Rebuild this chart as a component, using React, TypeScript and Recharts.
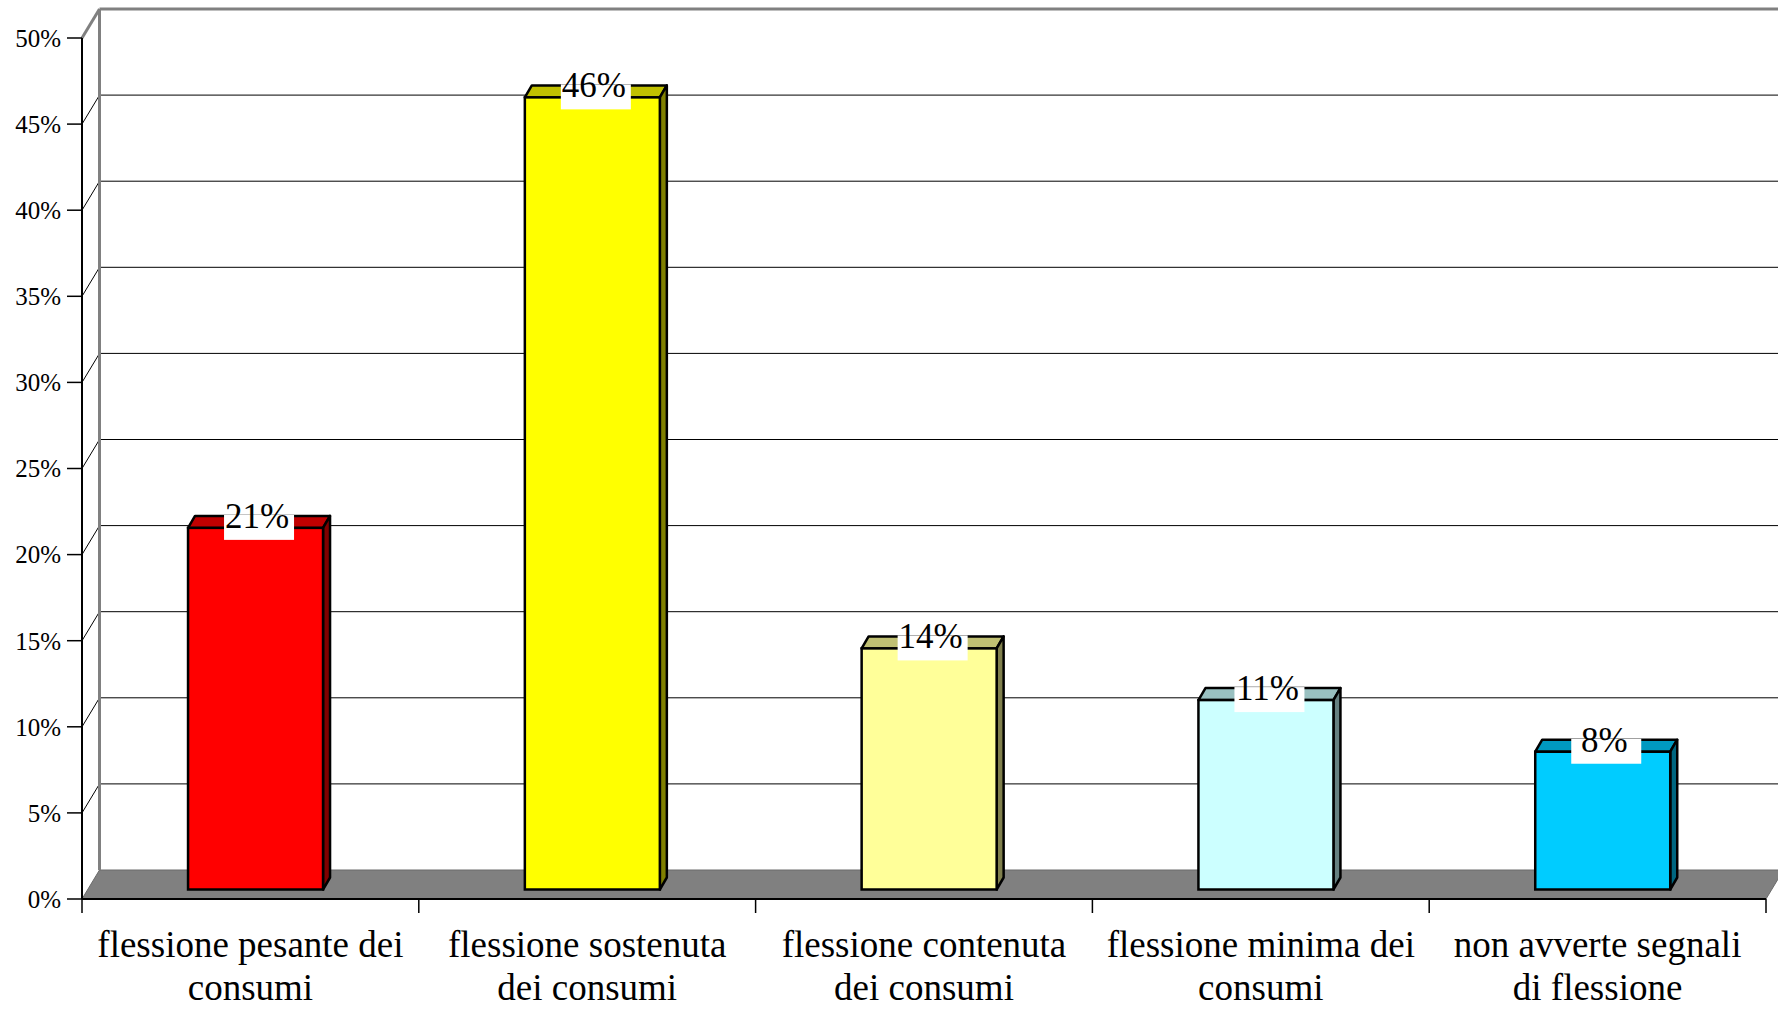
import React from 'react';
import { BarChart, Bar, XAxis, YAxis, CartesianGrid, LabelList } from 'recharts';

// Survey answers and their shares (%)
const CATEGORIES = [
  'flessione pesante dei consumi',
  'flessione sostenuta dei consumi',
  'flessione contenuta dei consumi',
  'flessione minima dei consumi',
  'non avverte segnali di flessione',
];
const VALUES = [21, 46, 14, 11, 8];
const Y_TICKS = [0, 5, 10, 15, 20, 25, 30, 35, 40, 45, 50];

// Face colours of each 3D column: front, top, right side
const FRONT_COLORS = ['#FF0000', '#FFFF00', '#FFFF99', '#CCFFFF', '#00CCFF'];
const TOP_COLORS = ['#C00000', '#C0C000', '#C0C073', '#99C0C0', '#0099C0'];
const SIDE_COLORS = ['#800000', '#808000', '#80804D', '#668080', '#006680'];

const data = CATEGORIES.map((name, i) => ({ name, value: VALUES[i] }));

const CHART_W = 1778;
const CHART_H = 1009;
const MARGIN = { top: 38, right: 12, bottom: 0, left: 0 };
const Y_AXIS_W = 82;
const X_AXIS_H = 110;
const PLOT_W = CHART_W - MARGIN.left - MARGIN.right - Y_AXIS_W;
const BAND = PLOT_W / CATEGORIES.length;

// Perspective offsets
const WALL_DX = 17.5;
const WALL_DY = -29;
const BAR_DX = 5;
const BAR_DY = -9.5;
const DEPTH_DX = 7;
const DEPTH_DY = -12;

const FONT = '"Liberation Serif", "Times New Roman", Times, serif';

function wrapWords(text: string, maxChars: number): string[] {
  const words = text.split(' ');
  const lines: string[] = [];
  let cur = '';
  for (const w of words) {
    const next = cur ? cur + ' ' + w : w;
    if (next.length > maxChars && cur) {
      lines.push(cur);
      cur = w;
    } else {
      cur = next;
    }
  }
  if (cur) lines.push(cur);
  return lines;
}

// Back wall gridlines, left side wall and floor
function WallLine(props: any) {
  const { x1, y1, x2, y2, y, height, index } = props;
  const bottom = y + height;
  const key = `wall-${index}`;
  if (Math.abs(y1 - bottom) < 0.5) {
    return (
      <polygon
        key={key}
        points={`${x1},${y1} ${x2},${y2} ${x2 + WALL_DX},${y2 + WALL_DY} ${x1 + WALL_DX},${y1 + WALL_DY}`}
        fill="#808080"
        stroke="#6a6a6a"
        strokeWidth={1}
      />
    );
  }
  if (Math.abs(y1 - y) < 0.5) {
    return (
      <g key={key}>
        <line x1={x1 + WALL_DX} y1={y1 + WALL_DY} x2={x1 + WALL_DX} y2={bottom + WALL_DY} stroke="#808080" strokeWidth={3} />
        <line x1={x1} y1={y1} x2={x1 + WALL_DX} y2={y1 + WALL_DY} stroke="#808080" strokeWidth={3} />
        <line x1={x1 + WALL_DX} y1={y1 + WALL_DY} x2={x2 + WALL_DX} y2={y2 + WALL_DY} stroke="#808080" strokeWidth={3} />
      </g>
    );
  }
  return (
    <g key={key}>
      <line x1={x1} y1={y1} x2={x1 + WALL_DX} y2={y1 + WALL_DY} stroke="#000" strokeWidth={1} />
      <line x1={x1 + WALL_DX} y1={y1 + WALL_DY} x2={x2 + WALL_DX} y2={y2 + WALL_DY} stroke="#000" strokeWidth={1} />
    </g>
  );
}

function CategoryTick(props: any) {
  const { x, y, payload, index, visibleTicksCount } = props;
  const half = payload && payload.offset > 0 ? payload.offset : BAND / 2;
  const lines = wrapWords(String(payload.value), 21);
  const last = index === (visibleTicksCount ?? CATEGORIES.length) - 1;
  return (
    <g>
      <line x1={x - half} y1={y} x2={x - half} y2={y + 14} stroke="#000" strokeWidth={1.5} />
      {last && <line x1={x + half} y1={y} x2={x + half} y2={y + 14} stroke="#000" strokeWidth={1.5} />}
      <text x={x} y={y + 58} textAnchor="middle" fontSize={37} fontFamily={FONT} fill="#000">
        {lines.map((l, i) => (
          <tspan key={i} x={x} dy={i === 0 ? 0 : 43}>
            {l}
          </tspan>
        ))}
      </text>
    </g>
  );
}

function Column3D(props: any) {
  const { x, y, width, height, index } = props;
  if (width == null || height == null) return null;
  const fx = x + BAR_DX;
  const fy = y + BAR_DY;
  const w = width;
  const h = height;
  const top = `${fx},${fy} ${fx + DEPTH_DX},${fy + DEPTH_DY} ${fx + w + DEPTH_DX},${fy + DEPTH_DY} ${fx + w},${fy}`;
  const side = `${fx + w},${fy} ${fx + w + DEPTH_DX},${fy + DEPTH_DY} ${fx + w + DEPTH_DX},${fy + h + DEPTH_DY} ${fx + w},${fy + h}`;
  return (
    <g>
      <polygon points={top} fill={TOP_COLORS[index]} stroke="#000" strokeWidth={2.5} strokeLinejoin="round" />
      <polygon points={side} fill={SIDE_COLORS[index]} stroke="#000" strokeWidth={2.5} strokeLinejoin="round" />
      <rect x={fx} y={fy} width={w} height={h} fill={FRONT_COLORS[index]} stroke="#000" strokeWidth={2.5} />
    </g>
  );
}

function ValueLabel(props: any) {
  const vb = props.viewBox || {};
  const x = props.x ?? vb.x;
  const y = props.y ?? vb.y;
  const width = props.width ?? vb.width;
  const { value } = props;
  if (x == null || y == null || width == null) return null;
  const cx = x + width / 2 + BAR_DX + DEPTH_DX / 2;
  const top = y + BAR_DY;
  return (
    <g>
      <rect x={cx - 35} y={top - 13} width={70} height={25} fill="#fff" />
      <text x={cx - 2} y={top} textAnchor="middle" fontSize={35} fontFamily={FONT} fill="#000">
        {`${value}%`}
      </text>
    </g>
  );
}

export default function App() {
  return (
    <div style={{ position: 'absolute', left: 0, top: 0, width: CHART_W, height: CHART_H, background: '#fff' }}>
      <BarChart
        width={CHART_W}
        height={CHART_H}
        data={data}
        margin={MARGIN}
        barCategoryGap="30%"
        style={{ fontFamily: FONT }}
      >
        <CartesianGrid vertical={false} horizontal={WallLine as any} />
        <XAxis
          dataKey="name"
          height={X_AXIS_H}
          tickLine={false}
          tickSize={0}
          tickMargin={0}
          interval={0}
          axisLine={{ stroke: '#000', strokeWidth: 2 }}
          tick={<CategoryTick />}
        />
        <YAxis
          width={Y_AXIS_W}
          domain={[0, 50]}
          ticks={Y_TICKS}
          interval={0}
          tickFormatter={(v: number) => `${v}%`}
          tickSize={15}
          tickMargin={6}
          axisLine={{ stroke: '#000', strokeWidth: 2 }}
          tickLine={{ stroke: '#000', strokeWidth: 1.5 }}
          tick={{ fontSize: 25, fill: '#000', fontFamily: FONT }}
        />
        <Bar dataKey="value" isAnimationActive={false} shape={(p: any) => <Column3D {...p} />}>
          <LabelList dataKey="value" content={(p: any) => <ValueLabel {...p} />} />
        </Bar>
      </BarChart>
    </div>
  );
}
